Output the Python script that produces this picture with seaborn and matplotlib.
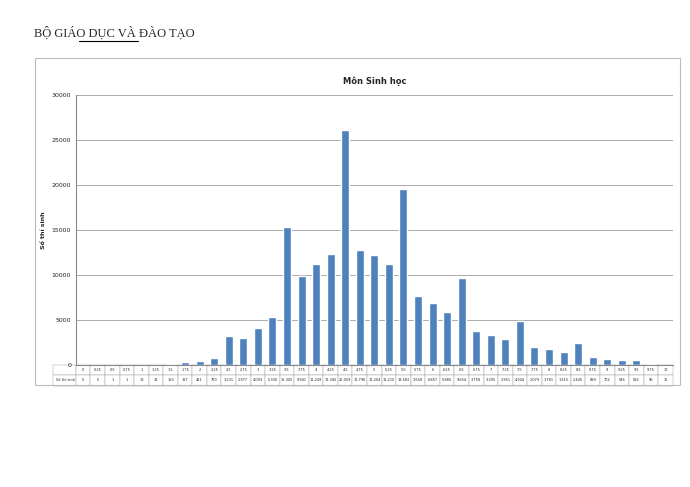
import matplotlib
matplotlib.use("Agg")
import matplotlib.pyplot as plt
import seaborn as sns
import pandas as pd
from matplotlib.patches import Rectangle

scores = ["0", "0.25", "0.5", "0.75", "1", "1.25", "1.5", "1.75", "2", "2.25", "2.5", "2.75",
          "3", "3.25", "3.5", "3.75", "4", "4.25", "4.5", "4.75", "5", "5.25", "5.5", "5.75",
          "6", "6.25", "6.5", "6.75", "7", "7.25", "7.5", "7.75", "8", "8.25", "8.5", "8.75",
          "9", "9.25", "9.5", "9.75", "10"]
counts = [5, 5, 1, 1, 13, 31, 150, 327, 461, 790, 3231, 2977, 4093, 5300, 15305, 9941,
          11249, 12345, 26059, 12796, 12204, 11210, 19582, 7658, 6857, 5880, 9654, 3758,
          3305, 2951, 4944, 2079, 1781, 1515, 2445, 899, 702, 546, 592, 90, 35]

df = pd.DataFrame({"score": scores, "count": counts})

sns.set_style("white")
plt.rcParams["font.family"] = ["DejaVu Sans"]

fig = plt.figure(figsize=(6.9, 4.87), dpi=100)
fig.text(0.05, 0.925, "BỘ GIÁO DỤC VÀ ĐÀO TẠO", fontsize=9, family="Liberation Serif")
fig.add_artist(plt.Line2D([0.115, 0.2], [0.915, 0.915], color="black", lw=0.8))
fig.add_artist(Rectangle((0.05, 0.21), 0.935, 0.67, transform=fig.transFigure,
                         fill=False, edgecolor="#bbbbbb", lw=0.8))

ax = fig.add_axes([0.11, 0.25, 0.865, 0.555])
sns.barplot(data=df, x="score", y="count", color="#4f81bd", saturation=1, width=0.55, ax=ax)
ax.set_ylim(0, 30000)
ax.set_yticks(range(0, 30001, 5000))
ax.tick_params(axis="y", labelsize=4.5, length=0)
ax.yaxis.grid(True, color="#888888", lw=0.5)
ax.set_axisbelow(True)
ax.set_xticks([])
ax.set_xlabel("")
ax.set_ylabel("Số thí sinh", fontsize=4.5, fontweight="bold")
ax.set_title("Môn Sinh học", fontsize=6, fontweight="bold", pad=8)
for s in ["top", "right"]:
    ax.spines[s].set_visible(False)
ax.spines["left"].set_color("#888888")
ax.spines["bottom"].set_color("#888888")

cells = [scores, [f"{c:,}" for c in counts]]
tbl = ax.table(cellText=cells, rowLabels=["", "Số thí sinh"], cellLoc="center",
               bbox=[0, -0.075, 1, 0.075])
tbl.auto_set_font_size(False)
tbl.set_fontsize(2.5)
for k, cell in tbl.get_celld().items():
    cell.set_linewidth(0.3)
    cell.set_edgecolor("#999999")

fig.savefig("out.png", dpi=100, facecolor="white")
